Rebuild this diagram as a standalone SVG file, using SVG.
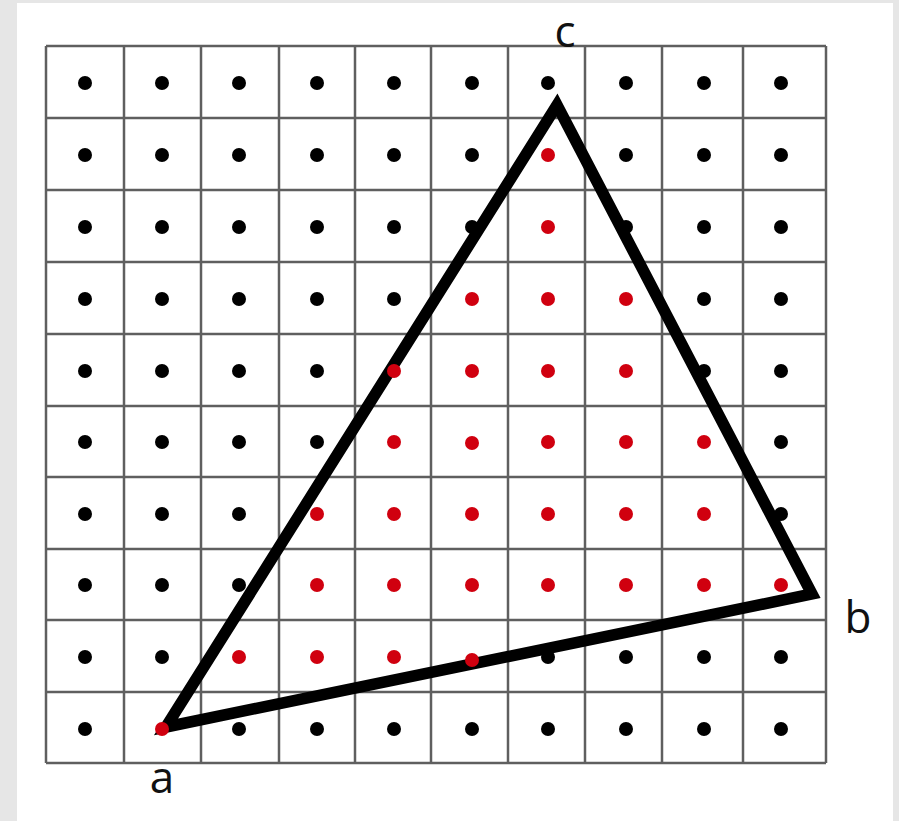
<svg xmlns="http://www.w3.org/2000/svg" width="899" height="821" viewBox="0 0 899 821">
<style>
.grid line{stroke:#5f5f5f;stroke-width:2.5}
.k{fill:#000}
.r{fill:#d0000f}
.lbl{font-family:"Open Sans","Liberation Sans",sans-serif;font-size:44px;fill:#111;text-anchor:middle}
</style>
<rect width="899" height="821" fill="#e6e6e6"/>
<rect x="17" y="3" width="876" height="818" fill="#ffffff"/>
<g id="grid" class="grid">
<line x1="46" y1="46" x2="46" y2="763"/>
<line x1="124" y1="46" x2="124" y2="763"/>
<line x1="201" y1="46" x2="201" y2="763"/>
<line x1="279" y1="46" x2="279" y2="763"/>
<line x1="355" y1="46" x2="355" y2="763"/>
<line x1="431" y1="46" x2="431" y2="763"/>
<line x1="508" y1="46" x2="508" y2="763"/>
<line x1="585" y1="46" x2="585" y2="763"/>
<line x1="662" y1="46" x2="662" y2="763"/>
<line x1="743" y1="46" x2="743" y2="763"/>
<line x1="826" y1="46" x2="826" y2="763"/>
<line x1="46" y1="46" x2="826" y2="46"/>
<line x1="46" y1="118" x2="826" y2="118"/>
<line x1="46" y1="190" x2="826" y2="190"/>
<line x1="46" y1="262" x2="826" y2="262"/>
<line x1="46" y1="334" x2="826" y2="334"/>
<line x1="46" y1="406" x2="826" y2="406"/>
<line x1="46" y1="477" x2="826" y2="477"/>
<line x1="46" y1="549" x2="826" y2="549"/>
<line x1="46" y1="620" x2="826" y2="620"/>
<line x1="46" y1="692" x2="826" y2="692"/>
<line x1="46" y1="763" x2="826" y2="763"/>
</g>
<g id="triangle">
<polygon points="166,727 812,594 557,105" fill="none" stroke="#000" stroke-width="11.5" stroke-linejoin="miter" stroke-miterlimit="10"/>
</g>
<g id="samples">
<g class="k"><circle cx="85" cy="83" r="7"/><circle cx="162" cy="83" r="7"/><circle cx="239" cy="83" r="7"/><circle cx="317" cy="83" r="7"/><circle cx="394" cy="83" r="7"/><circle cx="472" cy="83" r="7"/><circle cx="548" cy="83" r="7"/><circle cx="626" cy="83" r="7"/><circle cx="704" cy="83" r="7"/><circle cx="781" cy="83" r="7"/></g>
<g class="k"><circle cx="85" cy="155" r="7"/><circle cx="162" cy="155" r="7"/><circle cx="239" cy="155" r="7"/><circle cx="317" cy="155" r="7"/><circle cx="394" cy="155" r="7"/><circle cx="472" cy="155" r="7"/><circle cx="626" cy="155" r="7"/><circle cx="704" cy="155" r="7"/><circle cx="781" cy="155" r="7"/></g>
<circle class="r" cx="548" cy="155" r="7"/>
<g class="k"><circle cx="85" cy="227" r="7"/><circle cx="162" cy="227" r="7"/><circle cx="239" cy="227" r="7"/><circle cx="317" cy="227" r="7"/><circle cx="394" cy="227" r="7"/><circle cx="472" cy="227" r="7"/><circle cx="626" cy="227" r="7"/><circle cx="704" cy="227" r="7"/><circle cx="781" cy="227" r="7"/></g>
<circle class="r" cx="548" cy="227" r="7"/>
<g class="k"><circle cx="85" cy="299" r="7"/><circle cx="162" cy="299" r="7"/><circle cx="239" cy="299" r="7"/><circle cx="317" cy="299" r="7"/><circle cx="394" cy="299" r="7"/><circle cx="704" cy="299" r="7"/><circle cx="781" cy="299" r="7"/></g>
<g class="r"><circle cx="472" cy="299" r="7"/><circle cx="548" cy="299" r="7"/><circle cx="626" cy="299" r="7"/></g>
<g class="k"><circle cx="85" cy="371" r="7"/><circle cx="162" cy="371" r="7"/><circle cx="239" cy="371" r="7"/><circle cx="317" cy="371" r="7"/><circle cx="704" cy="371" r="7"/><circle cx="781" cy="371" r="7"/></g>
<g class="r"><circle cx="394" cy="371" r="7"/><circle cx="472" cy="371" r="7"/><circle cx="548" cy="371" r="7"/><circle cx="626" cy="371" r="7"/></g>
<g class="k"><circle cx="85" cy="442" r="7"/><circle cx="162" cy="442" r="7"/><circle cx="239" cy="442" r="7"/><circle cx="317" cy="442" r="7"/><circle cx="781" cy="442" r="7"/></g>
<g class="r"><circle cx="394" cy="442" r="7"/><circle cx="472" cy="443" r="7"/><circle cx="548" cy="442" r="7"/><circle cx="626" cy="442" r="7"/><circle cx="704" cy="442" r="7"/></g>
<g class="k"><circle cx="85" cy="514" r="7"/><circle cx="162" cy="514" r="7"/><circle cx="239" cy="514" r="7"/><circle cx="781" cy="514" r="7"/></g>
<g class="r"><circle cx="317" cy="514" r="7"/><circle cx="394" cy="514" r="7"/><circle cx="472" cy="514" r="7"/><circle cx="548" cy="514" r="7"/><circle cx="626" cy="514" r="7"/><circle cx="704" cy="514" r="7"/></g>
<g class="k"><circle cx="85" cy="585" r="7"/><circle cx="162" cy="585" r="7"/><circle cx="239" cy="585" r="7"/></g>
<g class="r"><circle cx="317" cy="585" r="7"/><circle cx="394" cy="585" r="7"/><circle cx="472" cy="585" r="7"/><circle cx="548" cy="585" r="7"/><circle cx="626" cy="585" r="7"/><circle cx="704" cy="585" r="7"/><circle cx="781" cy="585" r="7"/></g>
<g class="k"><circle cx="85" cy="657" r="7"/><circle cx="162" cy="657" r="7"/><circle cx="548" cy="657" r="7"/><circle cx="626" cy="657" r="7"/><circle cx="704" cy="657" r="7"/><circle cx="781" cy="657" r="7"/></g>
<g class="r"><circle cx="239" cy="657" r="7"/><circle cx="317" cy="657" r="7"/><circle cx="394" cy="657" r="7"/><circle cx="472" cy="660" r="7"/></g>
<g class="k"><circle cx="85" cy="729" r="7"/><circle cx="239" cy="729" r="7"/><circle cx="317" cy="729" r="7"/><circle cx="394" cy="729" r="7"/><circle cx="472" cy="729" r="7"/><circle cx="548" cy="729" r="7"/><circle cx="626" cy="729" r="7"/><circle cx="704" cy="729" r="7"/><circle cx="781" cy="729" r="7"/></g>
<circle class="r" cx="162" cy="729" r="7"/>
</g>
<g id="labels">
<text class="lbl" x="565" y="47">c</text>
<text class="lbl" x="162" y="793">a</text>
<text class="lbl" x="858" y="633">b</text>
</g>
</svg>
